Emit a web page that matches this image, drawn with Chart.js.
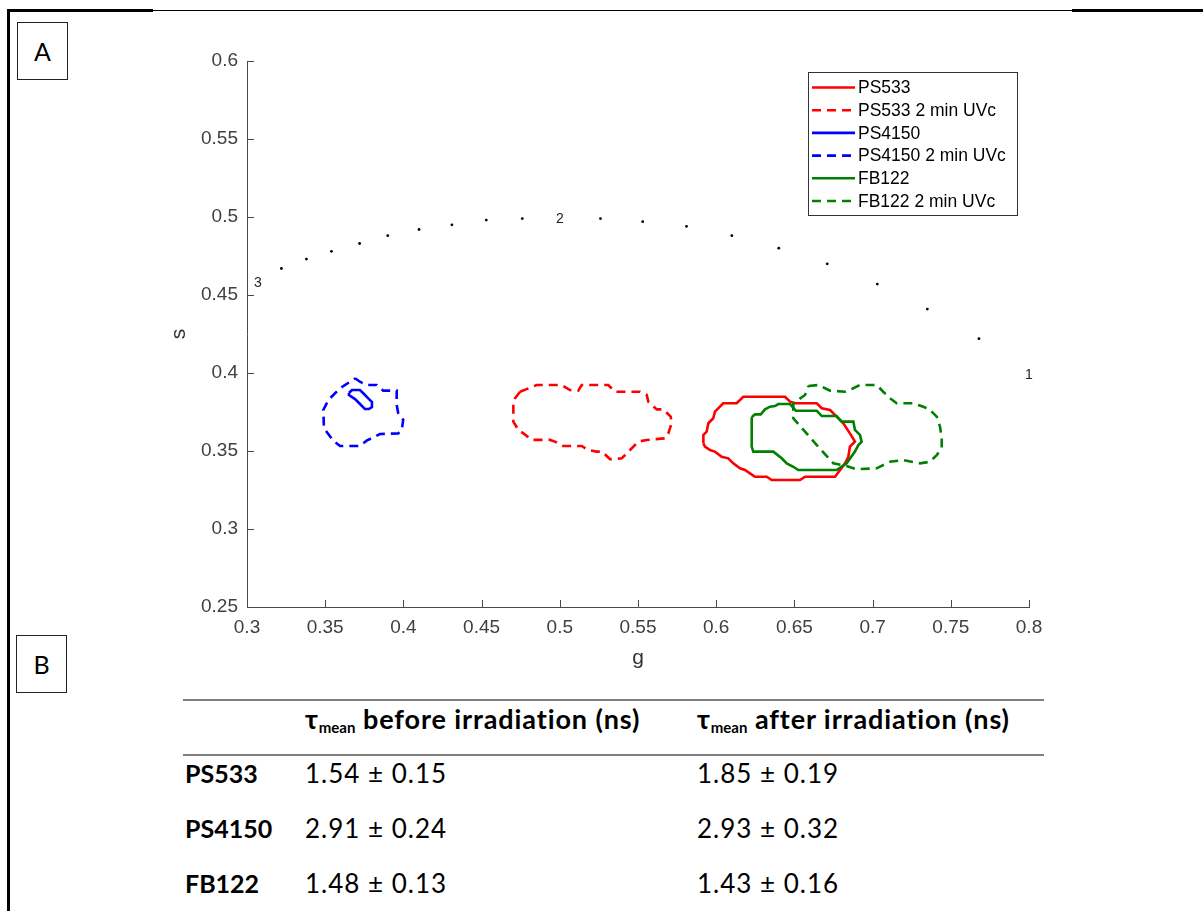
<!DOCTYPE html>
<html>
<head>
<meta charset="utf-8">
<script src="https://cdn.jsdelivr.net/npm/chart.js"></script>
<style>
  body { margin: 0; background: #fff; width: 1203px; height: 911px; overflow: hidden; position: relative; }
  #plot { position: absolute; left: 0; top: 0; width: 1203px; height: 700px; }
  .bar { position: absolute; background: #000; }
  .tag { position: absolute; width: 51px; height: 58px; box-sizing: border-box; border: 1px solid #222;
         font-family: Lato, sans-serif; font-size: 25px; line-height: 56px; text-align: center; color: #000; }
  .rule { position: absolute; left: 183px; width: 861px; height: 2px; background: #808080; }
  .cell { position: absolute; font-family: Lato, sans-serif; font-size: 26px; letter-spacing: 1px; line-height: 30px; color: #000; white-space: nowrap; }
  .cell.b { font-weight: bold; font-size: 25px; letter-spacing: 0; }
  .cell.h { font-weight: bold; font-size: 27px; letter-spacing: 0.9px; }
  .cell sub { font-size: 15px; letter-spacing: 0; vertical-align: -4px; line-height: 0; }
</style>
</head>
<body>
<div class="bar" style="left:7px;top:9px;width:3px;height:902px"></div>
<div class="bar" style="left:7px;top:9px;width:146px;height:3px"></div>
<div class="bar" style="left:153px;top:10px;width:919px;height:1px"></div>
<div class="bar" style="left:1072px;top:9px;width:131px;height:3px"></div>
<div class="tag" style="left:17px;top:22px">A</div>
<div class="tag" style="left:16px;top:635px">B</div>

<div id="plot"><canvas id="myChart"></canvas></div>

<div class="rule" style="top:699px"></div>
<div class="rule" style="top:754px"></div>
<div id="table"></div>

<script>
// phasor plot axes
var xTickLabels = ['0.3','0.35','0.4','0.45','0.5','0.55','0.6','0.65','0.7','0.75','0.8'];
var yTickLabels = ['0.25','0.3','0.35','0.4','0.45','0.5','0.55','0.6'];

// universal circle, dots
var circleG = [0.768,0.735,0.703,0.671,0.640,0.610,0.581,0.553,0.526,0.476,0.453,0.431,0.410,0.390,0.372,0.354,0.338,0.322];
var circleS = [0.422,0.441,0.457,0.470,0.480,0.488,0.494,0.497,0.499,0.499,0.498,0.495,0.492,0.488,0.483,0.478,0.473,0.467];
var tauLabels = ['1','2','3'];
var tauLabelG = [0.8,0.5,0.307];
var tauLabelS = [0.4,0.5,0.459];

// contour outlines (g, s)
var ps533G = [0.5918,0.5918,0.5939,0.5950,0.5981,0.5992,0.6045,0.6131,0.6173,0.6440,0.6472,0.6504,0.6643,0.6675,0.6728,0.6770,0.6813,0.6855,0.6887,0.6855,0.6845,0.6824,0.6760,0.6568,0.6536,0.6355,0.6323,0.6248,0.6216,0.6184,0.6152,0.6109,0.6077,0.6035,0.5992,0.5960,0.5928];
var ps533S = [0.3549,0.3603,0.3624,0.3678,0.3710,0.3752,0.3806,0.3806,0.3848,0.3848,0.3816,0.3806,0.3806,0.3774,0.3763,0.3720,0.3678,0.3613,0.3560,0.3528,0.3463,0.3421,0.3335,0.3335,0.3314,0.3314,0.3335,0.3335,0.3357,0.3378,0.3389,0.3421,0.3453,0.3463,0.3496,0.3506,0.3528];

var ps533uvG = [0.4746,0.4852,0.5012,0.5065,0.5118,0.5140,0.5310,0.5353,0.5513,0.5556,0.5566,0.5620,0.5662,0.5709,0.5715,0.5694,0.5673,0.5556,0.5502,0.5396,0.5321,0.5300,0.5268,0.5236,0.5182,0.5140,0.5022,0.4969,0.4937,0.4820,0.4767,0.4735,0.4703,0.4703,0.4714];
var ps533uvS = [0.3880,0.3923,0.3923,0.3891,0.3887,0.3923,0.3923,0.3880,0.3880,0.3859,0.3816,0.3767,0.3767,0.3720,0.3678,0.3613,0.3581,0.3571,0.3560,0.3453,0.3447,0.3468,0.3496,0.3496,0.3506,0.3532,0.3532,0.3560,0.3571,0.3571,0.3613,0.3635,0.3688,0.3806,0.3838];

var ps4150G = [0.3652,0.3671,0.3722,0.3742,0.3780,0.3799,0.3799,0.3780,0.3754,0.3729,0.3691,0.3652];
var ps4150S = [0.3872,0.3891,0.3891,0.3872,0.3833,0.3814,0.3782,0.3769,0.3769,0.3795,0.3833,0.3859];

var ps4150uvG = [0.3691,0.3722,0.3765,0.3829,0.3871,0.3957,0.3957,0.3967,0.3999,0.3989,0.3967,0.3850,0.3765,0.3722,0.3595,0.3552,0.3492,0.3488,0.3520,0.3595,0.3659];
var ps4150uvS = [0.3966,0.3944,0.3923,0.3923,0.3887,0.3887,0.3795,0.3742,0.3699,0.3635,0.3613,0.3609,0.3566,0.3532,0.3532,0.3566,0.3646,0.3763,0.3827,0.3902,0.3944];

var fb122G = [0.6227,0.6248,0.6285,0.6312,0.6344,0.6376,0.6397,0.6472,0.6510,0.6643,0.6675,0.6770,0.6802,0.6877,0.6887,0.6919,0.6930,0.6909,0.6887,0.6834,0.6770,0.6525,0.6493,0.6451,0.6419,0.6365,0.6237,0.6227];
var fb122S = [0.3716,0.3735,0.3735,0.3767,0.3784,0.3788,0.3801,0.3801,0.3758,0.3758,0.3724,0.3724,0.3688,0.3688,0.3635,0.3603,0.3560,0.3538,0.3496,0.3421,0.3378,0.3378,0.3399,0.3421,0.3453,0.3496,0.3496,0.3528];

var fb122uvG = [0.6589,0.6653,0.6696,0.6728,0.6824,0.6877,0.6919,0.7026,0.7068,0.7111,0.7154,0.7260,0.7324,0.7367,0.7410,0.7431,0.7442,0.7442,0.7410,0.7367,0.7303,0.7196,0.7111,0.7026,0.6898,0.6834,0.6749,0.6643,0.6493,0.6493,0.6568];
var fb122uvS = [0.3917,0.3923,0.3902,0.3887,0.3880,0.3902,0.3923,0.3923,0.3880,0.3838,0.3806,0.3806,0.3784,0.3763,0.3720,0.3656,0.3581,0.3517,0.3474,0.3431,0.3421,0.3442,0.3431,0.3389,0.3383,0.3404,0.3421,0.3538,0.3710,0.3806,0.3859];

var seriesNames = ['PS533','PS533 2 min UVc','PS4150','PS4150 2 min UVc','FB122','FB122 2 min UVc'];

// table
var rowNames = ['PS533','PS4150','FB122'];
var before = ['1.54 ± 0.15','2.91 ± 0.24','1.48 ± 0.13'];
var after = ['1.85 ± 0.19','2.93 ± 0.32','1.43 ± 0.16'];

function pts(g, s) {
    var p = g.map(function (v, i) { return {x: v, y: s[i]}; });
    p.push(p[0]);
    return p;
}

function contour(i, g, s, color, dashed) {
    return {
        label: seriesNames[i],
        data: pts(g, s),
        showLine: true,
        borderColor: color,
        backgroundColor: color,
        borderWidth: 2.6,
        borderDash: dashed ? [9, 6] : [],
        pointRadius: 0,
        tension: 0,
        fill: false,
        order: 10 - i
    };
}

var axisColor = '#4a4a4a';

var insideTicks = {
    id: 'insideTicks',
    afterDraw: function (chart) {
        var ctx = chart.ctx, a = chart.chartArea, x = chart.scales.x, y = chart.scales.y;
        ctx.save();
        ctx.strokeStyle = axisColor;
        ctx.lineWidth = 1;
        ctx.beginPath();
        xTickLabels.forEach(function (t) {
            var px = Math.round(x.getPixelForValue(parseFloat(t))) + 0.5;
            ctx.moveTo(px, a.bottom);
            ctx.lineTo(px, a.bottom - 7);
        });
        yTickLabels.forEach(function (t) {
            var py = Math.round(y.getPixelForValue(parseFloat(t))) + 0.5;
            ctx.moveTo(a.left, py);
            ctx.lineTo(a.left + 7, py);
        });
        ctx.stroke();

        // tau labels on the circle
        ctx.fillStyle = '#222';
        ctx.font = '14px "Liberation Sans", Arial, sans-serif';
        ctx.textAlign = 'center';
        ctx.textBaseline = 'middle';
        tauLabels.forEach(function (t, i) {
            ctx.fillText(t, x.getPixelForValue(tauLabelG[i]), y.getPixelForValue(tauLabelS[i]) + 2);
        });

        // legend box
        var lx = 808, ly = 72, lw = 209, lh = 143;
        ctx.fillStyle = '#fff';
        ctx.fillRect(lx, ly, lw, lh);
        ctx.strokeStyle = '#333';
        ctx.lineWidth = 1;
        ctx.strokeRect(lx + 0.5, ly + 0.5, lw, lh);
        ctx.font = '17.5px "Liberation Sans", Arial, sans-serif';
        ctx.textAlign = 'left';
        ctx.textBaseline = 'middle';
        chart.data.datasets.forEach(function (ds, i) {
            if (i >= seriesNames.length) return;
            var cy = ly + 15.5 + i * 22.7;
            ctx.strokeStyle = ds.borderColor;
            ctx.lineWidth = 2.6;
            ctx.setLineDash(ds.borderDash);
            ctx.beginPath();
            ctx.moveTo(lx + 4, cy);
            ctx.lineTo(lx + 47, cy);
            ctx.stroke();
            ctx.setLineDash([]);
            ctx.fillStyle = '#000';
            ctx.fillText(ds.label, lx + 50, cy + 1);
        });
        ctx.restore();
    }
};

var ctx = document.getElementById('myChart').getContext('2d');

var myChart = new Chart(ctx, {
    type: 'scatter',
    data: {
        datasets: [
            contour(0, ps533G, ps533S, '#ff0000', false),
            contour(1, ps533uvG, ps533uvS, '#ff0000', true),
            contour(2, ps4150G, ps4150S, '#0000ff', false),
            contour(3, ps4150uvG, ps4150uvS, '#0000ff', true),
            contour(4, fb122G, fb122S, '#008000', false),
            contour(5, fb122uvG, fb122uvS, '#008000', true),
            {
                label: 'circle',
                data: circleG.map(function (v, i) { return {x: v, y: circleS[i]}; }),
                showLine: false,
                pointRadius: 1.4,
                pointBorderWidth: 0,
                backgroundColor: '#000',
                borderColor: '#000',
                order: 20
            }
        ]
    },
    options: {
        responsive: true,
        maintainAspectRatio: false,
        animation: false,
        layout: { padding: { left: 167, right: 174, top: 61, bottom: 29 } },
        plugins: {
            legend: { display: false },
            tooltip: { enabled: false }
        },
        scales: {
            x: {
                type: 'linear',
                min: 0.3,
                max: 0.8,
                afterBuildTicks: function (s) { s.ticks = xTickLabels.map(function (t) { return {value: parseFloat(t)}; }); },
                afterFit: function (s) { s.height = 64; },
                ticks: {
                    callback: function (v, i) { return xTickLabels[i]; },
                    font: { family: '"Liberation Sans", Arial, sans-serif', size: 19 },
                    color: '#404040',
                    padding: 9,
                    maxRotation: 0,
                    autoSkip: false
                },
                grid: { display: false, drawTicks: false },
                border: { display: true, color: axisColor, width: 1 },
                title: {
                    display: true,
                    text: 'g',
                    font: { family: '"Liberation Sans", Arial, sans-serif', size: 21 },
                    color: '#333',
                    padding: 0
                }
            },
            y: {
                type: 'linear',
                min: 0.25,
                max: 0.6,
                afterBuildTicks: function (s) { s.ticks = yTickLabels.map(function (t) { return {value: parseFloat(t)}; }); },
                afterFit: function (s) { s.width = 80; },
                ticks: {
                    callback: function (v, i) { return yTickLabels[i]; },
                    font: { family: '"Liberation Sans", Arial, sans-serif', size: 19 },
                    color: '#404040',
                    padding: 9,
                    autoSkip: false
                },
                grid: { display: false, drawTicks: false },
                border: { display: true, color: axisColor, width: 1 },
                title: {
                    display: true,
                    text: 's',
                    font: { family: '"Liberation Sans", Arial, sans-serif', size: 21 },
                    color: '#333',
                    padding: 0
                }
            }
        }
    },
    plugins: [insideTicks]
});

// table B
var tbl = document.getElementById('table');
function cell(html, left, top, cls) {
    var d = document.createElement('div');
    d.className = 'cell' + (cls ? ' ' + cls : '');
    d.style.left = left + 'px';
    d.style.top = top + 'px';
    d.innerHTML = html;
    tbl.appendChild(d);
}
cell('τ<sub>mean</sub> before irradiation (ns)', 305, 704, 'h');
cell('τ<sub>mean</sub> after irradiation (ns)', 697, 704, 'h');
rowNames.forEach(function (n, i) {
    var top = 758 + i * 55;
    cell(n, 185, top, 'b');
    cell(before[i], 305, top, '');
    cell(after[i], 697, top, '');
});
</script>
</body>
</html>
